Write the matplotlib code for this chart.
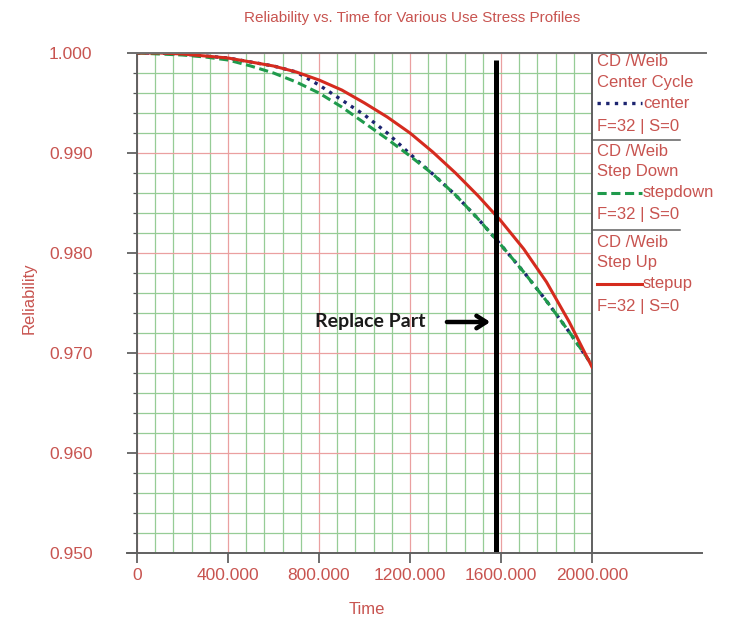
import matplotlib
matplotlib.use("Agg")
import matplotlib.pyplot as plt
from matplotlib.lines import Line2D
from matplotlib.ticker import MultipleLocator

plt.rcParams['font.family'] = ['Liberation Sans', 'DejaVu Sans']

# ---- data ----
time = [0, 100, 200, 300, 400, 500, 600, 700, 800, 900, 1000,
        1100, 1200, 1300, 1400, 1500, 1600, 1700, 1800, 1900, 2000]
stepup = [1.0000, 1.0000, 0.9999, 0.9997, 0.9995, 0.9991, 0.9987, 0.9981, 0.9973, 0.9963, 0.9950,
          0.9936, 0.9920, 0.9901, 0.9880, 0.9857, 0.9832, 0.9804, 0.9771, 0.9731, 0.9686]
stepdown = [1.0000, 0.9999, 0.9998, 0.9996, 0.9993, 0.9987, 0.9980, 0.9971, 0.9960, 0.9946, 0.9930,
            0.9914, 0.9897, 0.9879, 0.9858, 0.9834, 0.9808, 0.9781, 0.9752, 0.9721, 0.9688]
center = [1.0000, 1.0000, 0.9999, 0.9997, 0.9995, 0.9991, 0.9987, 0.9981, 0.9968, 0.9953, 0.9938,
          0.9920, 0.9899, 0.9879, 0.9858, 0.9834, 0.9808, 0.9781, 0.9752, 0.9721, 0.9688]
replace_time = 1580
replace_top = 0.9993

x_ticks = [0, 400, 800, 1200, 1600, 2000]
x_tick_labels = ["0", "400.000", "800.000", "1200.000", "1600.000", "2000.000"]
y_ticks = [0.95, 0.96, 0.97, 0.98, 0.99, 1.00]
y_tick_labels = ["0.950", "0.960", "0.970", "0.980", "0.990", "1.000"]

legend_blocks = [
    ("Center Cycle", "center", dict(color="#1c2470", ls=(0, (1, 1.6)), lw=2.4)),
    ("Step Down", "stepdown", dict(color="#1f9a4c", ls=(0, (3, 1.5)), lw=2.2)),
    ("Step Up", "stepup", dict(color="#d52b1e", ls="-", lw=2.2)),
]

TXT = "#c85450"
W, H = 731, 620

fig = plt.figure(figsize=(W / 100, H / 100), dpi=100)
ax = fig.add_axes([137 / W, 1 - 553 / H, 455 / W, 500 / H])

ax.set_xlim(0, 2000)
ax.set_ylim(0.95, 1.0)

# grid: green minor, red major
ax.xaxis.set_minor_locator(MultipleLocator(80))
ax.yaxis.set_minor_locator(MultipleLocator(0.002))
ax.set_xticks(x_ticks)
ax.set_xticklabels(x_tick_labels)
ax.set_yticks(y_ticks)
ax.set_yticklabels(y_tick_labels)
ax.grid(which="minor", color="#96cc96", lw=0.9)
ax.grid(which="major", color="#eaa0a0", lw=0.9)
ax.set_axisbelow(True)

ax.tick_params(axis="x", which="major", length=7, width=1.2, color="#555555",
               labelsize=12.5, labelcolor=TXT, pad=4)
ax.tick_params(axis="x", which="minor", length=0)
ax.tick_params(axis="y", which="major", length=7, width=1.2, color="#555555",
               labelsize=12.5, labelcolor=TXT, pad=25)
ax.tick_params(axis="y", which="minor", length=3, width=0.9, color="#555555")

for s in ["top", "bottom"]:
    ax.spines[s].set_visible(False)
for s in ["left", "right"]:
    ax.spines[s].set_color("#606060")
    ax.spines[s].set_linewidth(1.4)

# curves
ax.plot(time, center, **legend_blocks[0][2], zorder=3)
ax.plot(time, stepdown, **legend_blocks[1][2], zorder=4)
ax.plot(time, stepup, **legend_blocks[2][2], zorder=5)

# replace part marker
ax.plot([replace_time, replace_time], [0.95, replace_top], color="black", lw=3.6, zorder=6,
        solid_capstyle="butt")
ax.annotate("", xy=(replace_time - 15, 0.9731), xytext=(1350, 0.9731),
            arrowprops=dict(arrowstyle="->,head_length=0.7,head_width=0.45", lw=3.2, color="black"),
            zorder=7)
ax.text(1268, 0.9731, "Replace Part", ha="right", va="center", fontsize=14,
        fontweight="bold", family=["Lato", "DejaVu Sans"], color="#1a1a1a", zorder=7)

ax.set_xlabel("Time", fontsize=12, color=TXT)
ax.xaxis.set_label_coords(0.505, -0.098)
ax.set_ylabel("Reliability", fontsize=12, color=TXT)
ax.yaxis.set_label_coords(-0.22, 0.51)

fig.text(412 / W, 1 - 18 / H, "Reliability vs. Time for Various Use Stress Profiles",
         ha="center", va="center", fontsize=11, color=TXT)

# frame lines that run past the plot area
def hline(y, x0, x1, **kw):
    fig.add_artist(Line2D([x0 / W, x1 / W], [1 - y / H, 1 - y / H], **kw))

hline(53, 129, 706, color="#707070", lw=1.4)
hline(553, 127, 702, color="#606060", lw=1.4)
hline(140, 592, 680, color="#606060", lw=1.1)
hline(230, 592, 680, color="#606060", lw=1.1)

# legend blocks
row_y = [[61, 82, 103, 126], [151, 171, 193, 215], [242, 262, 284, 306]]
for (name, key, style), ys in zip(legend_blocks, row_y):
    fig.text(597 / W, 1 - ys[0] / H, "CD /Weib", fontsize=12, color=TXT, va="center")
    fig.text(597 / W, 1 - ys[1] / H, name, fontsize=12, color=TXT, va="center")
    fig.add_artist(Line2D([597 / W, 642 / W], [1 - ys[2] / H] * 2, **style))
    fig.text(643 / W, 1 - ys[2] / H, key, fontsize=12, color=TXT, va="center")
    fig.text(597 / W, 1 - ys[3] / H, "F=32 | S=0", fontsize=12, color=TXT, va="center")

fig.savefig("out.png", dpi=100)
